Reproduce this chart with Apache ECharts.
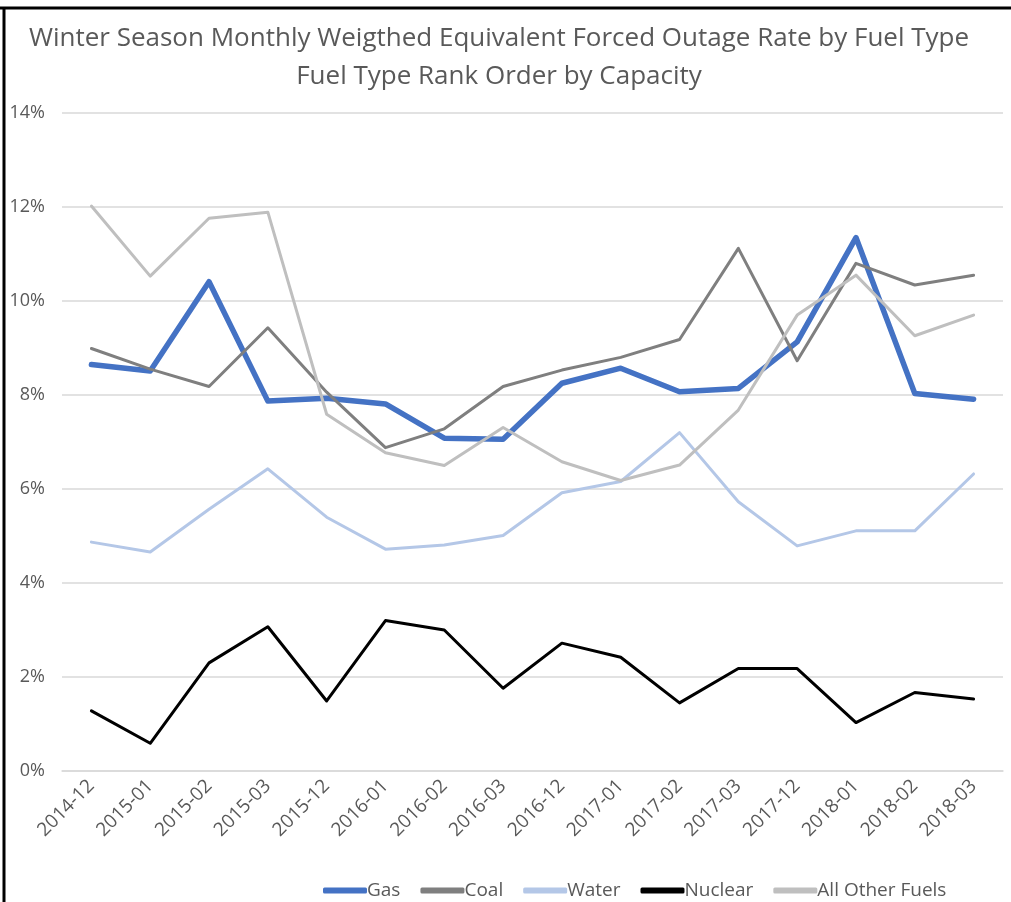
<!DOCTYPE html>
<html>
<head>
<meta charset="utf-8">
<title>Winter Season Monthly Weigthed EFOR</title>
<script src="https://cdn.jsdelivr.net/npm/echarts@6/dist/echarts.min.js"></script>
<style>
  html, body { margin: 0; padding: 0; background: #fff; }
  #chart { width: 1011px; height: 902px; }
</style>
</head>
<body>
<div id="chart"></div>
<script>
"use strict";
// months, in percent
var months = ['2014-12','2015-01','2015-02','2015-03','2015-12','2016-01','2016-02','2016-03',
              '2016-12','2017-01','2017-02','2017-03','2017-12','2018-01','2018-02','2018-03'];
var gas     = [8.65, 8.51, 10.41, 7.87, 7.93, 7.81, 7.08, 7.06, 8.25, 8.57, 8.07, 8.14, 9.13, 11.35, 8.03, 7.91];
var coal    = [8.99, 8.55, 8.18, 9.43, 8.06, 6.88, 7.28, 8.18, 8.53, 8.80, 9.18, 11.12, 8.73, 10.80, 10.34, 10.55];
var water   = [4.87, 4.66, 5.57, 6.43, 5.40, 4.72, 4.81, 5.01, 5.92, 6.16, 7.20, 5.73, 4.79, 5.11, 5.11, 6.32];
var nuclear = [1.28, 0.59, 2.30, 3.07, 1.49, 3.20, 3.00, 1.76, 2.72, 2.42, 1.45, 2.18, 2.18, 1.03, 1.67, 1.53];
var other   = [12.02, 10.53, 11.76, 11.89, 7.59, 6.77, 6.50, 7.31, 6.58, 6.18, 6.51, 7.68, 9.70, 10.55, 9.26, 9.70];
var yTicks  = [0, 14, 2]; // min, max, step

var font = 'Open Sans';
var txt = '#595959';

function line(name, data, color, width) {
    return {
        name: name,
        type: 'line',
        data: data,
        symbol: 'none',
        lineStyle: { color: color, width: width, cap: 'round', join: 'round' },
        itemStyle: { color: color },
        emphasis: { disabled: true }
    };
}

var chart = echarts.init(document.getElementById('chart'));
chart.setOption({
    animation: false,
    backgroundColor: '#fff',
    textStyle: { fontFamily: font },
    title: {
        text: 'Winter Season Monthly Weigthed Equivalent Forced Outage Rate by Fuel Type\nFuel Type Rank Order by Capacity',
        left: 494,
        textAlign: 'center',
        top: 15,
        textStyle: { fontFamily: font, fontSize: 26, fontWeight: 'normal', color: txt, lineHeight: 38 }
    },
    legend: {
        left: 318,
        top: 876,
        itemWidth: 44,
        itemHeight: 6,
        itemGap: 20,
        icon: 'roundRect',
        textStyle: { fontFamily: font, fontSize: 19, color: txt, padding: [0, 0, 0, -5] },
        data: ['Gas', 'Coal', 'Water', 'Nuclear', 'All Other Fuels']
    },
    grid: { left: 62, right: 8, top: 113, bottom: 131 },
    xAxis: {
        type: 'category',
        data: months,
        boundaryGap: true,
        axisLine: { lineStyle: { color: '#d9d9d9', width: 1.5 } },
        axisTick: { show: false },
        axisLabel: { rotate: 45, margin: 12, fontSize: 19, color: txt, fontFamily: font, interval: 0 }
    },
    yAxis: {
        type: 'value',
        min: yTicks[0],
        max: yTicks[1],
        interval: yTicks[2],
        axisLine: { show: false },
        axisTick: { show: false },
        splitLine: { lineStyle: { color: '#d9d9d9', width: 1.5 } },
        axisLabel: { formatter: '{value}%', margin: 17, fontSize: 18, color: txt, fontFamily: font }
    },
    graphic: [
        { type: 'line', shape: { x1: 0, y1: 8, x2: 1011, y2: 8 }, style: { stroke: '#000', lineWidth: 3 } },
        { type: 'line', shape: { x1: 4, y1: 8, x2: 4, y2: 902 }, style: { stroke: '#000', lineWidth: 3 } }
    ],
    series: [
        line('Gas', gas, '#4472C4', 5.5),
        line('Coal', coal, '#7F7F7F', 3),
        line('Water', water, '#B4C7E7', 3),
        line('Nuclear', nuclear, '#000000', 3),
        line('All Other Fuels', other, '#BFBFBF', 3)
    ]
});
</script>
</body>
</html>
